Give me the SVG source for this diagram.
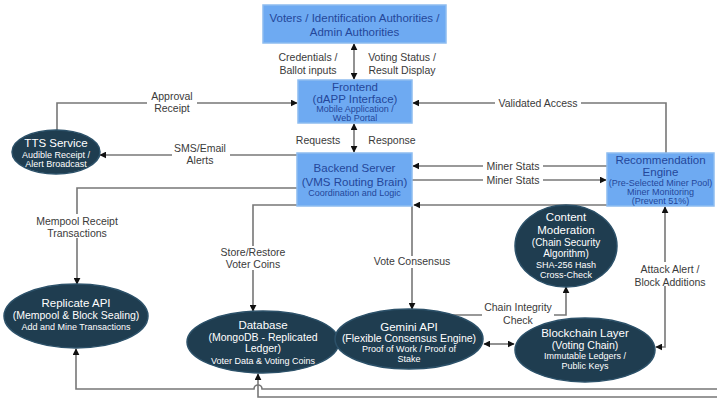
<svg xmlns="http://www.w3.org/2000/svg" width="717" height="399" viewBox="0 0 717 399">
<defs>
<marker id="ah" viewBox="0 0 10 10" refX="9" refY="5" markerWidth="7" markerHeight="7" orient="auto-start-reverse" markerUnits="userSpaceOnUse">
<path d="M0,0 L10,5 L0,10 z" fill="#111"/>
</marker>
<style>
.box{fill:#6eaaf2;stroke:#8dbcf0;stroke-width:1.5}
.ell{fill:#1f3d50;stroke:#2c5169;stroke-width:1.5}
.bt{font-family:"Liberation Sans",Arial,sans-serif;fill:#24479a;text-anchor:middle}
.et{font-family:"Liberation Sans",Arial,sans-serif;fill:#ffffff;text-anchor:middle}
.lt{font-family:"Liberation Sans",Arial,sans-serif;fill:#3a3a3a;text-anchor:middle;font-size:10.5px}
.big{font-size:11.5px}
.sm{font-size:9px}
.ln{fill:none;stroke:#777;stroke-width:1.6}
.bg{fill:#fff}
</style>
</defs>
<rect width="717" height="399" fill="#fff"/>

<g id="connectors">
<path class="ln" d="M354,44 V79" marker-start="url(#ah)" marker-end="url(#ah)"/>
<path class="ln" d="M57,131 V103 H297" marker-end="url(#ah)"/>
<path class="ln" d="M297,155 H100" marker-end="url(#ah)"/>
<path class="ln" d="M354,124 V152" marker-start="url(#ah)" marker-end="url(#ah)"/>
<path class="ln" d="M666,153 V103 H413" marker-end="url(#ah)"/>
<path class="ln" d="M607,166 H413" marker-end="url(#ah)"/>
<path class="ln" d="M412,180 H606" marker-end="url(#ah)"/>
<path class="ln" d="M297,188 H77 V284" marker-end="url(#ah)"/>
<path class="ln" d="M297,205 H253 V311" marker-end="url(#ah)"/>
<path class="ln" d="M608,205 H414" marker-end="url(#ah)"/>
<path class="ln" d="M412,206 V309" marker-end="url(#ah)"/>
<path class="ln" d="M451,315 H566 V287" marker-end="url(#ah)"/>
<path class="ln" d="M484,344 H514" marker-start="url(#ah)" marker-end="url(#ah)"/>
<path class="ln" d="M656,347 H665 V207" marker-start="url(#ah)" marker-end="url(#ah)"/>
<path class="ln" d="M717,389 H262 A4,4 0 0 0 254,389 H76 V349" marker-end="url(#ah)"/>
<path class="ln" d="M717,397 H258 V374" marker-end="url(#ah)"/>

<text class="lt" x="308" y="61">Credentials /</text>
<text class="lt" x="308" y="74">Ballot inputs</text>
<text class="lt" x="402" y="61">Voting Status /</text>
<text class="lt" x="402" y="74">Result Display</text>

<rect class="bg" x="147" y="92" width="50" height="24"/>
<text class="lt" x="172" y="100">Approval</text>
<text class="lt" x="172" y="112">Receipt</text>

<rect class="bg" x="172" y="143" width="58" height="24"/>
<text class="lt" x="200" y="152">SMS/Email</text>
<text class="lt" x="200" y="164">Alerts</text>

<text class="lt" x="318" y="144">Requests</text>
<text class="lt" x="392" y="144">Response</text>

<rect class="bg" x="495" y="97" width="86" height="12"/>
<text class="lt" x="538" y="107">Validated Access</text>

<rect class="bg" x="483" y="161" width="60" height="11"/>
<text class="lt" x="513" y="170">Miner Stats</text>
<rect class="bg" x="483" y="175" width="60" height="11"/>
<text class="lt" x="513" y="184">Miner Stats</text>

<rect class="bg" x="30" y="214" width="94" height="24"/>
<text class="lt" x="77" y="225">Mempool Receipt</text>
<text class="lt" x="77" y="237">Transactions</text>

<rect class="bg" x="218" y="246" width="70" height="24"/>
<text class="lt" x="253" y="256">Store/Restore</text>
<text class="lt" x="253" y="268">Voter Coins</text>

<rect class="bg" x="371" y="256" width="82" height="12"/>
<text class="lt" x="412" y="265">Vote Consensus</text>

<rect class="bg" x="482" y="301" width="72" height="24"/>
<text class="lt" x="518" y="311">Chain Integrity</text>
<text class="lt" x="518" y="324">Check</text>

<rect class="bg" x="630" y="262" width="84" height="24"/>
<text class="lt" x="670" y="273">Attack Alert /</text>
<text class="lt" x="670" y="286">Block Additions</text>
</g>

<g id="voters">
<rect class="box" x="263" y="5" width="183" height="38"/>
<text class="bt big" x="354.5" y="22">Voters / Identification Authorities /</text>
<text class="bt big" x="354.5" y="36">Admin Authorities</text>
</g>

<g id="frontend">
<rect class="box" x="298" y="80" width="114" height="43"/>
<text class="bt big" x="355" y="91">Frontend</text>
<text class="bt big" x="355" y="103">(dAPP Interface)</text>
<text class="bt sm" x="355" y="112">Mobile Application /</text>
<text class="bt sm" x="355" y="121">Web Portal</text>
</g>

<g id="backend">
<rect class="box" x="297" y="153" width="115" height="53"/>
<text class="bt big" x="354.5" y="172">Backend Server</text>
<text class="bt big" x="354.5" y="186">(VMS Routing Brain)</text>
<text class="bt sm" x="354.5" y="196">Coordination and Logic</text>
</g>

<g id="recommendation">
<rect class="box" x="607" y="153" width="107" height="53"/>
<text class="bt big" x="660.5" y="164">Recommendation</text>
<text class="bt big" x="660.5" y="176">Engine</text>
<text class="bt sm" x="660.5" y="186">(Pre-Selected Miner Pool)</text>
<text class="bt sm" x="660.5" y="195">Miner Monitoring</text>
<text class="bt sm" x="660.5" y="204">(Prevent 51%)</text>
</g>

<g id="tts">
<ellipse class="ell" cx="56" cy="152" rx="44" ry="22"/>
<text class="et big" x="56" y="147">TTS Service</text>
<text class="et sm" x="56" y="158">Audible Receipt /</text>
<text class="et sm" x="56" y="167">Alert Broadcast</text>
</g>

<g id="replicate">
<ellipse class="ell" cx="76" cy="316" rx="72" ry="32"/>
<text class="et big" x="76" y="307">Replicate API</text>
<text class="et" font-size="10.5" x="76" y="319">(Mempool &amp; Block Sealing)</text>
<text class="et sm" x="76" y="330">Add and Mine Transactions</text>
</g>

<g id="database">
<ellipse class="ell" cx="263" cy="342" rx="76" ry="31"/>
<text class="et big" x="263" y="329">Database</text>
<text class="et" font-size="10.5" x="263" y="341">(MongoDB - Replicated</text>
<text class="et" font-size="10.5" x="263" y="352">Ledger)</text>
<text class="et sm" x="263" y="364">Voter Data &amp; Voting Coins</text>
</g>

<g id="gemini">
<ellipse class="ell" cx="409" cy="339" rx="74" ry="30"/>
<text class="et big" x="409" y="331">Gemini API</text>
<text class="et" font-size="10.5" x="409" y="342">(Flexible Consensus Engine)</text>
<text class="et sm" x="409" y="352">Proof of Work / Proof of</text>
<text class="et sm" x="409" y="362">Stake</text>
</g>

<g id="blockchain">
<ellipse class="ell" cx="585" cy="350" rx="70" ry="32"/>
<text class="et big" x="585" y="337">Blockchain Layer</text>
<text class="et" font-size="10.5" x="585" y="349">(Voting Chain)</text>
<text class="et sm" x="585" y="359">Immutable Ledgers /</text>
<text class="et sm" x="585" y="369">Public Keys</text>
</g>

<g id="content-moderation">
<ellipse class="ell" cx="566" cy="246" rx="51" ry="41"/>
<text class="et big" x="566" y="221">Content</text>
<text class="et big" x="566" y="234">Moderation</text>
<text class="et" font-size="10" x="566" y="246">(Chain Security</text>
<text class="et" font-size="10" x="566" y="257">Algorithm)</text>
<text class="et sm" x="566" y="268">SHA-256 Hash</text>
<text class="et sm" x="566" y="278">Cross-Check</text>
</g>
</svg>
